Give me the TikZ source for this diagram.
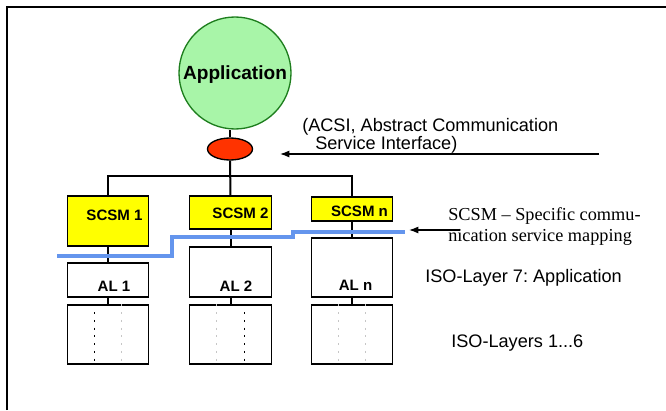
\documentclass[tikz,border=0pt]{standalone}
\usepackage{fontspec}
\setmainfont{Liberation Sans}
\newfontfamily\notefont[Ligatures=TeX]{Liberation Serif}
\usepackage{xcolor}
\usetikzlibrary{arrows.meta,calc,positioning,shapes.geometric}
\definecolor{appgreen}{HTML}{A8F5A8}
\definecolor{appedge}{HTML}{1E7E1E}
\definecolor{acsired}{HTML}{FF3300}
\definecolor{scsmyellow}{HTML}{FFFF00}
\definecolor{mapblue}{HTML}{6495ED}
\frenchspacing

\begin{document}
\begin{tikzpicture}[x=0.75pt,y=-0.75pt,>=Latex,
  box/.style={draw,line width=0.9pt,minimum width=61pt,inner sep=0pt},
  wire/.style={line width=1.5pt},
  lbl/.style={font=\fontsize{11.3}{13}\selectfont\bfseries,inner sep=0pt},
  txt/.style={font=\fontsize{13.6}{13.5}\selectfont,anchor=west,inner sep=0pt,align=left}]
  \useasboundingbox (0,0) rectangle (666,410);
  % frame (only top and left edges are visible)
  \draw[line width=1.5pt] (7,410) -- (7,7) -- (666,7);

  % application and interface
  \node[circle,draw=appedge,line width=1pt,fill=appgreen,minimum size=84pt,inner sep=0pt,text depth=0pt,
        font=\fontsize{14.3}{16}\selectfont\bfseries] (app) at (235,73) {Application};
  \node[ellipse,draw,line width=1pt,fill=acsired,minimum width=33.75pt,minimum height=16.5pt] (acsi) at (230,149) {};

  % mapping boxes
  \node[box,fill=scsmyellow,minimum height=37.5pt] (scsm1) at (108,221) {};
  \node[box,fill=scsmyellow,minimum height=24.75pt] (scsm2) at (230.5,212.5) {};
  \node[box,fill=scsmyellow,minimum height=18pt] (scsmn) at (352,209) {};
  \node[lbl] (scsm1txt) at (114.5,215) {SCSM 1};
  \node[lbl] (scsm2txt) at (240.5,213) {SCSM 2};
  \node[lbl] (scsmntxt) at (359.5,211) {SCSM n};

  % application layer boxes
  \node[box,minimum height=25.5pt] (al1) at (108,280) {};
  \node[box,minimum height=37.5pt] (al2) at (230.5,272) {};
  \node[box,minimum height=44.25pt] (aln) at (352,267.5) {};
  \node[lbl] (al1txt) at (114,286) {AL 1};
  \node[lbl] (al2txt) at (236,286) {AL 2};
  \node[lbl] (alntxt) at (355.5,285) {AL n};

  % layers 1..6
  \node[box,minimum height=44.25pt] (iso1) at (108,334.5) {};
  \node[box,minimum height=44.25pt] (iso2) at (230.5,334.5) {};
  \node[box,minimum height=44.25pt] (ison) at (352,334.5) {};
  \foreach \i/\ca/\cb in {1/black/gray!45,2/gray!45/black,n/gray!45/gray!45}{
    \draw[\ca,line width=0.8pt,dash pattern=on 1.5pt off 4.3pt]
      ($(iso\i.north west)!1/3!(iso\i.north east)$) -- ($(iso\i.south west)!1/3!(iso\i.south east)$);
    \draw[\cb,line width=0.8pt,dash pattern=on 1.5pt off 4.3pt]
      ($(iso\i.north west)!2/3!(iso\i.north east)$) -- ($(iso\i.south west)!2/3!(iso\i.south east)$);
  }

  % connectors
  \coordinate (bus) at (230,176);
  \draw[wire] (acsi.north) -- (acsi.north |- app.south);
  \draw[wire] (acsi.south) -- (scsm2.north);
  \draw[wire] (scsm1.north) |- (bus) -| (scsmn.north);
  \foreach \i in {1,2,n}{
    \draw[wire] (scsm\i.south) -- (al\i.north);
    \draw[wire] (al\i.south) -- (iso\i.north);
  }

  % mapping boundary
  \draw[mapblue,line width=3pt] (57,256) -- (172,256) -- (172,237) -- (293,237) -- (293,232) -- (405,232);

  % notes
  \node[txt] (acsinote) at (302,136) {(ACSI, Abstract Communication\\\hspace*{9.75pt}Service Interface)};
  \coordinate (acsiTail) at (599,154);
  \coordinate (acsiTip) at (280,154);
  \draw[->,line width=0.9pt] (acsiTail) -- (acsiTip);

  \node[txt,font=\notefont\fontsize{13.7}{15.75}\selectfont] (mapnote) at (448,226.5) {SCSM -- Specific commu-\\nication service mapping};
  \coordinate (mapTail) at (460,230);
  \coordinate (mapTip) at (409,230);
  \draw[->,line width=0.9pt] (mapTail) -- (mapTip);

  \node[txt] (layer7) at (425,278) {ISO-Layer 7: Application};
  \node[txt] (layers16) at (451,343) {ISO-Layers 1...6};
\end{tikzpicture}
\end{document}
